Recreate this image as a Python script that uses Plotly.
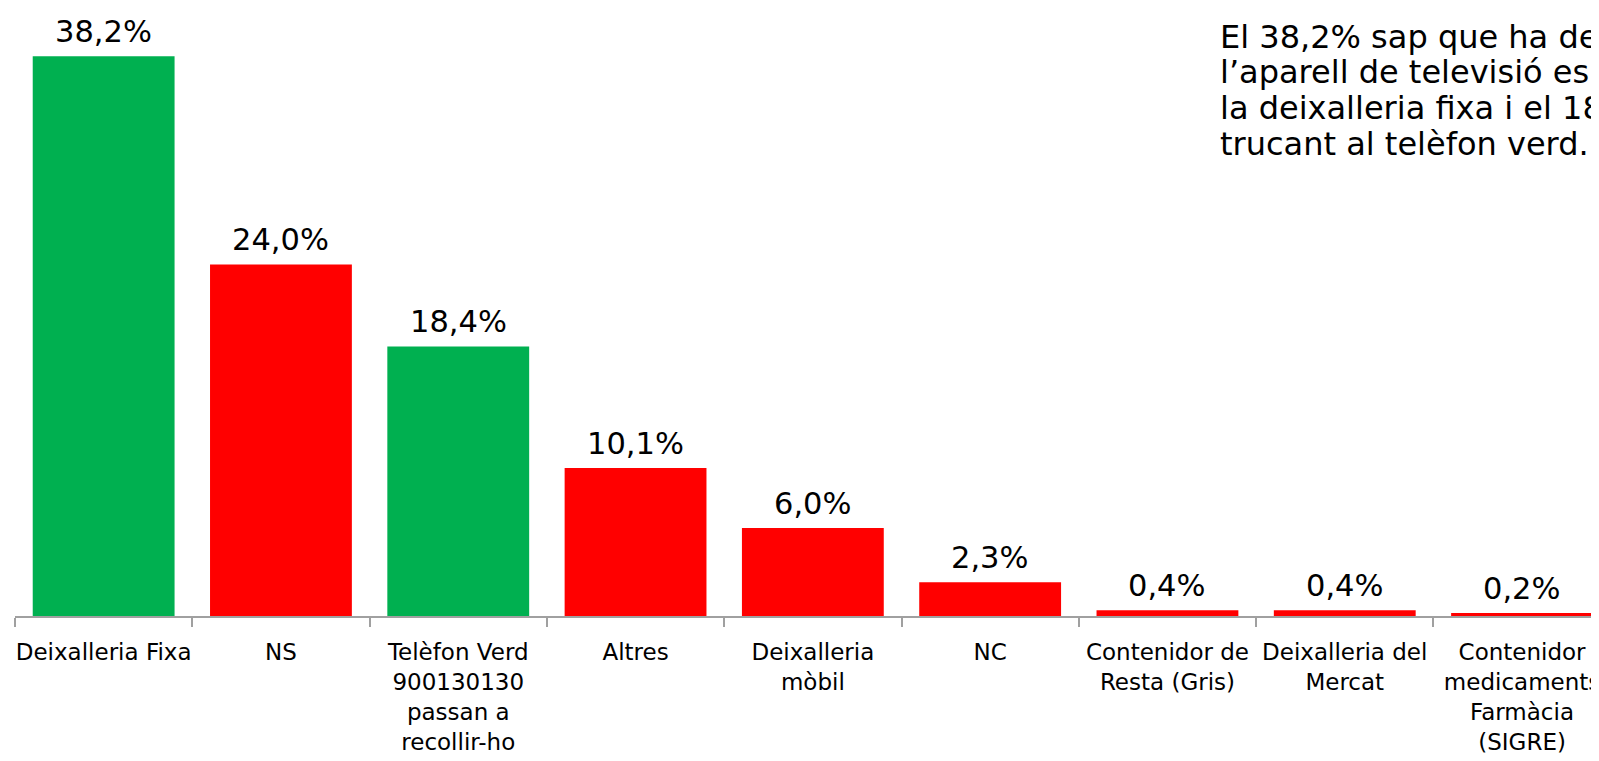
import plotly.graph_objects as go

categories = [
    "Deixalleria Fixa",
    "NS",
    "Telèfon Verd<br>900130130<br>passan a<br>recollir-ho",
    "Altres",
    "Deixalleria<br>mòbil",
    "NC",
    "Contenidor de<br>Resta (Gris)",
    "Deixalleria del<br>Mercat",
    "Contenidor<br>medicaments<br>Farmàcia<br>(SIGRE)",
]
values = [38.2, 24.0, 18.4, 10.1, 6.0, 2.3, 0.4, 0.4, 0.2]
is_green = [True, False, True, False, False, False, False, False, False]

note_lines = [
    "El 38,2% sap que ha de portar",
    "l’aparell de televisió espatllat a",
    "la deixalleria fixa i el 18,4%",
    "trucant al telèfon verd.",
]

GREEN = "#00B050"
RED = "#FF0000"
FONT = "DejaVu Sans, Verdana, sans-serif"

# page has an 8px body margin, so the figure starts at (8, 8)
W, H = 1591, 753
ML, MR, MT, MB = 7, 0, 0, 145
plot_w = W - ML - MR
plot_h = H - MT - MB
cat_px = 177.3
y_px_per_unit = 14.65

colors = [GREEN if g else RED for g in is_green]
labels = [f"{v:.1f}".replace(".", ",") + "%" for v in values]

fig = go.Figure()
fig.add_trace(go.Bar(
    x=categories,
    y=values,
    marker=dict(color=colors, line=dict(width=0)),
    hoverinfo="x+y",
))

annotations = []
for c, v, t in zip(categories, values, labels):
    annotations.append(dict(
        x=c, y=v, xref="x", yref="y", text=t, showarrow=False,
        yanchor="bottom", yshift=5,
        font=dict(family=FONT, size=30.5, color="#000000"),
    ))

line_centers_px = [28.5, 64, 99.5, 135.5]
for line, yc in zip(note_lines, line_centers_px):
    annotations.append(dict(
        x=(1210 - ML) / plot_w, y=1 - yc / plot_h, xref="paper", yref="paper",
        text=line, showarrow=False, xanchor="left", yanchor="middle",
        font=dict(family=FONT, size=32, color="#000000"),
    ))

fig.update_layout(
    width=W, height=H,
    margin=dict(l=ML, r=MR, t=MT, b=MB, pad=0),
    paper_bgcolor="white", plot_bgcolor="white",
    bargap=0.2,
    showlegend=False,
    font=dict(family=FONT, size=23, color="#000000"),
    annotations=annotations,
    xaxis=dict(
        type="category",
        range=[-0.5, -0.5 + plot_w / cat_px],
        showline=True, linecolor="#A0A0A0", linewidth=1.5,
        ticks="outside", tickson="boundaries", ticklen=9, tickcolor="#A0A0A0", tickwidth=1.5,
        ticklabelstandoff=15,
        showgrid=False, zeroline=False,
        tickfont=dict(family=FONT, size=23, color="#000000"),
        tickangle=0,
    ),
    yaxis=dict(
        range=[0, plot_h / y_px_per_unit],
        visible=False, showgrid=False, zeroline=False,
    ),
)

fig.write_html("out.html")
